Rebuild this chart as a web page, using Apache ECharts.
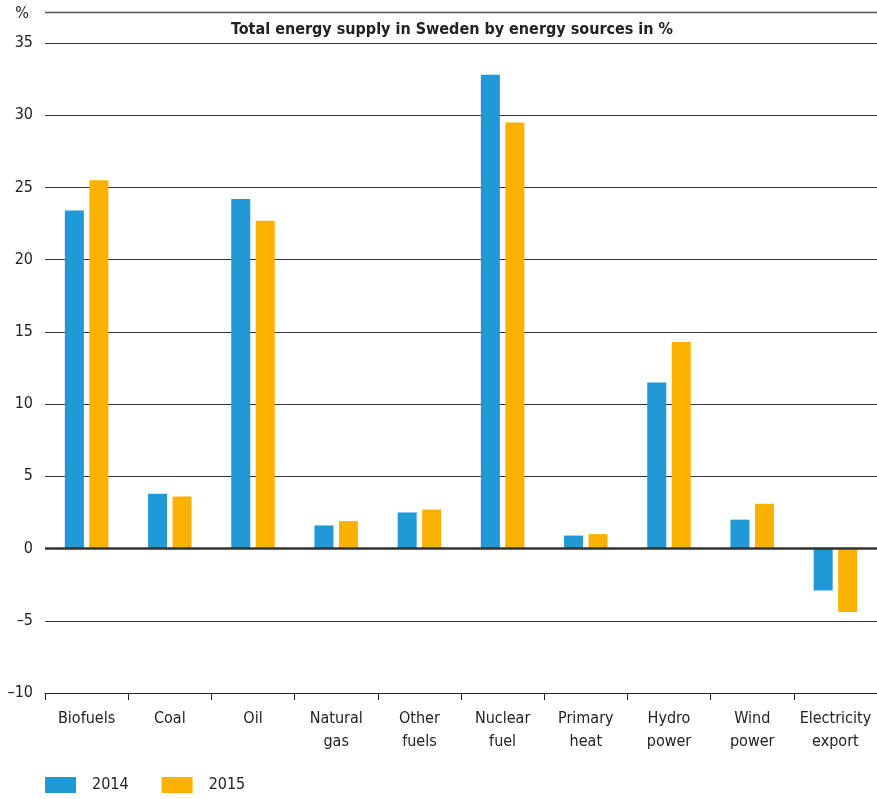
<!DOCTYPE html>
<html>
<head>
<meta charset="utf-8">
<script src="https://cdn.jsdelivr.net/npm/echarts@6/dist/echarts.min.js"></script>
<style>
  html, body { margin: 0; padding: 0; background: #fff; }
  #chart { width: 877px; height: 799px; }
</style>
</head>
<body>
<div id="chart"></div>
<script>
// data
var categories = ['Biofuels', 'Coal', 'Oil', 'Natural\ngas', 'Other\nfuels', 'Nuclear\nfuel', 'Primary\nheat', 'Hydro\npower', 'Wind\npower', 'Electricity\nexport']
var values2014 = [23.4, 3.8, 24.2, 1.6, 2.5, 32.8, 0.9, 11.5, 2.0, -2.9]
var values2015 = [25.5, 3.6, 22.7, 1.9, 2.7, 29.5, 1.0, 14.3, 3.1, -4.4]
var yTicks = { min: -10, max: 35, interval: 5 }

var FONT = "'Liberation Sans Narrow', 'DejaVu Sans Condensed', 'Liberation Sans', sans-serif"
var TEXT = '#222'
var BLUE = '#209ad6'
var ORANGE = '#fbb100'

var chart = echarts.init(document.getElementById('chart'))

chart.setOption({
  animation: false,
  textStyle: { fontFamily: FONT },
  title: {
    text: 'Total energy supply in Sweden by energy sources in %',
    left: 447,
    top: 17,
    textAlign: 'center',
    textStyle: { fontFamily: FONT, fontWeight: 'bold', fontSize: 16, color: TEXT }
  },
  graphic: [{
    // thin rule above the title
    type: 'line',
    shape: { x1: 45, y1: 12.5, x2: 877, y2: 12.5 },
    style: { stroke: '#555', lineWidth: 1.5 },
    silent: true
  }],
  legend: {
    left: 45,
    bottom: 6,
    padding: 0,
    itemWidth: 31,
    itemHeight: 16,
    itemGap: 33,
    icon: 'rect',
    textStyle: { fontFamily: FONT, fontSize: 16, color: TEXT, padding: [0, 0, 0, 11] },
    data: ['2014', '2015']
  },
  grid: {
    left: 45,
    right: 0,
    top: 43,
    bottom: 106
  },
  xAxis: {
    type: 'category',
    data: categories,
    axisLine: { onZero: false, lineStyle: { color: TEXT, width: 1 } },
    axisTick: { show: true, length: 7, lineStyle: { color: TEXT } },
    axisLabel: {
      interval: 0,
      margin: 14,
      fontFamily: FONT,
      fontSize: 16,
      lineHeight: 23,
      color: TEXT
    }
  },
  yAxis: {
    type: 'value',
    min: yTicks.min,
    max: yTicks.max,
    interval: yTicks.interval,
    name: '%',
    nameLocation: 'end',
    nameGap: 21,
    nameTextStyle: { fontFamily: FONT, fontSize: 16, color: TEXT, align: 'right', padding: [0, 16, 0, 0] },
    axisLine: { show: false },
    axisTick: { show: false },
    axisLabel: {
      margin: 12,
      fontFamily: FONT,
      fontSize: 16,
      color: TEXT,
      formatter: function (v) { return v < 0 ? '\u2013' + Math.abs(v) : String(v) }
    },
    splitLine: { lineStyle: { color: '#333', width: 1 } }
  },
  series: [
    {
      name: '2014',
      type: 'bar',
      data: values2014,
      barWidth: 19,
      barGap: '29%',
      itemStyle: { color: BLUE },
      markLine: {
        silent: true,
        symbol: 'none',
        label: { show: false },
        lineStyle: { color: '#333', width: 2.5, type: 'solid' },
        data: [{ yAxis: 0 }]
      }
    },
    {
      name: '2015',
      type: 'bar',
      data: values2015,
      barWidth: 19,
      itemStyle: { color: ORANGE }
    }
  ]
})
</script>
</body>
</html>
